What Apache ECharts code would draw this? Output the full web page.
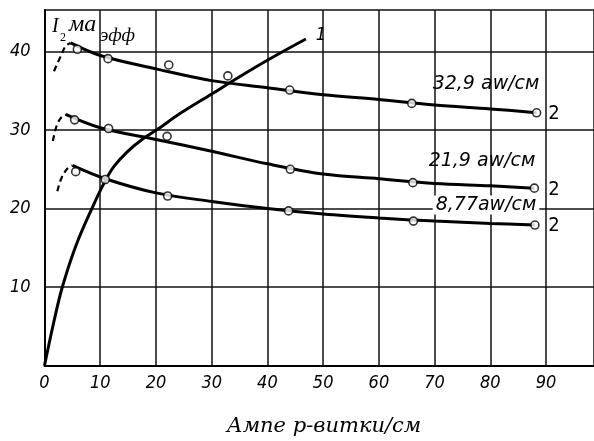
<!DOCTYPE html>
<html>
<head>
<meta charset="utf-8">
<script src="https://cdn.jsdelivr.net/npm/echarts@6/dist/echarts.min.js"></script>
<style>
html,body{margin:0;padding:0;background:#fff;}
#c{width:594px;height:441px;}
</style>
</head>
<body>
<div id="c"></div>
<script>
// Curve 1
var curve1X = [0, 1.75, 3.2, 5.6, 8.5, 10.8, 12.5, 14.8, 17.5, 20.3, 24.3, 30, 35, 40, 46.9];
var curve1Y = [0, 5.8, 10, 15.2, 20, 23.4, 25.4, 27.2, 28.8, 30.1, 32.1, 34.6, 36.8, 38.9, 41.6];

// 32,9 aw/cm
var a329LineX = [4.7, 10, 20, 30, 40, 50, 60, 70, 80, 88.3];
var a329LineY = [41.1, 39.5, 37.8, 36.3, 35.4, 34.5, 33.9, 33.2, 32.7, 32.2];
var a329DashX = [1.7, 2.9, 3.8, 4.7];
var a329DashY = [37.5, 39.4, 40.7, 41.1];
var a329PtsX = [5.9, 11.4, 22.3, 32.9, 44.0, 65.9, 88.3];
var a329PtsY = [40.3, 39.1, 38.3, 36.9, 35.1, 33.4, 32.2];

// 21,9 aw/cm
var a219LineX = [3.8, 10, 20, 30, 40, 50, 60, 70, 80, 87.9];
var a219LineY = [32.0, 30.3, 28.8, 27.3, 25.7, 24.4, 23.8, 23.2, 22.9, 22.6];
var a219DashX = [1.5, 2.2, 3.0, 3.8];
var a219DashY = [28.6, 30.6, 31.6, 32.0];
var a219PtsX = [5.4, 11.5, 22.0, 44.1, 66.1, 87.9];
var a219PtsY = [31.3, 30.2, 29.2, 25.0, 23.3, 22.6];

// 8,77 aw/cm
var a877LineX = [5.0, 10.9, 20, 30, 40, 50, 60, 70, 80, 88.0];
var a877LineY = [25.5, 23.8, 22.0, 20.9, 20.0, 19.3, 18.8, 18.4, 18.1, 17.9];
var a877DashX = [2.3, 3.0, 4.0, 5.0];
var a877DashY = [22.2, 23.8, 25.0, 25.5];
var a877PtsX = [5.6, 10.9, 22.1, 43.8, 66.2, 88.0];
var a877PtsY = [24.7, 23.7, 21.6, 19.7, 18.4, 17.9];

var xTickLabels = ['0','10','20','30','40','50','60','70','80','90'];
var yTickLabels = ['10','20','30','40'];

var curveLabels = ['32,9 aw/см', '21,9 aw/см', '8,77aw/см'];
var xName = 'Ампе р-витки/см';

function pairs(xs, ys){ return xs.map(function(x,i){ return [x, ys[i]]; }); }

var chart = echarts.init(document.getElementById('c'), null, {renderer:'canvas'});

function lineSeries(xs, ys, dashed, w){
  return {
    type:'line', data: pairs(xs, ys), smooth: 0.35, symbol:'none',
    lineStyle:{color:'#000', width: w, type: dashed ? [6,4] : 'solid'}, z: 3, silent:true
  };
}
function ptSeries(xs, ys){
  return {
    type:'scatter', data: pairs(xs, ys), symbol:'circle', symbolSize: 8,
    itemStyle:{color:'#fff', borderColor:'#000', borderWidth:1.6}, z: 5, silent:true
  };
}

var tickFam = 'DejaVu Sans Condensed';

chart.setOption({
  animation:false,
  backgroundColor:'#fff',
  grid:{left:44.5, right:-3, top:10, bottom:75.5},
  xAxis:{
    type:'value', min:0, max:98.6, interval:10,
    axisLine:{show:true, lineStyle:{color:'#000', width:2}},
    axisTick:{show:false},
    splitLine:{show:true, lineStyle:{color:'#111', width:1.5}},
    axisLabel:{
      showMaxLabel:false, margin:9,
      fontFamily:tickFam, fontStyle:'italic', fontSize:18, color:'#000',
      formatter:function(v){ var i = Math.round(v/10); return xTickLabels[i] !== undefined && Math.abs(v - i*10) < 1e-6 ? xTickLabels[i] : ''; }
    }
  },
  yAxis:{
    type:'value', min:0, max:45.3, interval:10,
    axisLine:{show:true, lineStyle:{color:'#000', width:2}},
    axisTick:{show:false},
    splitLine:{show:true, lineStyle:{color:'#111', width:1.5}},
    axisLabel:{
      showMinLabel:false, showMaxLabel:false, margin:14,
      fontFamily:tickFam, fontStyle:'italic', fontSize:18, color:'#000',
      padding:[6,0,0,0],
      formatter:function(v){ var i = Math.round(v/10) - 1; return yTickLabels[i] !== undefined && Math.abs(v - (i+1)*10) < 1e-6 ? yTickLabels[i] : ''; }
    }
  },
  series:[
    lineSeries(curve1X, curve1Y, false, 3),
    lineSeries(a329LineX, a329LineY, false, 3),
    lineSeries(a329DashX, a329DashY, true, 2.2),
    ptSeries(a329PtsX, a329PtsY),
    lineSeries(a219LineX, a219LineY, false, 3),
    lineSeries(a219DashX, a219DashY, true, 2.2),
    ptSeries(a219PtsX, a219PtsY),
    lineSeries(a877LineX, a877LineY, false, 3),
    lineSeries(a877DashX, a877DashY, true, 2.2),
    ptSeries(a877PtsX, a877PtsY)
  ],
  graphic:[
    {type:'text', x:324, y:427, z:10, style:{text:xName, font:'italic 21px "DejaVu Serif"', fill:'#000', align:'center', verticalAlign:'middle'}},
    {type:'text', x:52, y:27, z:10, style:{text:'I', font:'italic 20px "Liberation Serif"', fill:'#000', align:'left', verticalAlign:'middle'}},
    {type:'text', x:60, y:38, z:10, style:{text:'2', font:'12px "Liberation Serif"', fill:'#000', align:'left', verticalAlign:'middle'}},
    {type:'text', x:69, y:25, z:10, style:{text:'ма', font:'italic 24px "Liberation Serif"', fill:'#000', align:'left', verticalAlign:'middle'}},
    {type:'text', x:100, y:36, z:10, style:{text:'эфф', font:'italic 19px "Liberation Serif"', fill:'#000', align:'left', verticalAlign:'middle'}},
    {type:'text', x:321, y:35, z:10, style:{text:'1', font:'italic 18px "DejaVu Sans Condensed"', fill:'#000', align:'center', verticalAlign:'middle'}},
    {type:'text', x:486, y:84, z:10, style:{text:curveLabels[0], font:'italic 19px "DejaVu Sans"', fill:'#000', align:'center', verticalAlign:'middle'}},
    {type:'text', x:482, y:161, z:10, style:{text:curveLabels[1], font:'italic 19px "DejaVu Sans"', fill:'#000', align:'center', verticalAlign:'middle'}},
    {type:'text', x:486, y:205, z:10, style:{text:curveLabels[2], font:'italic 19px "DejaVu Sans"', fill:'#000', align:'center', verticalAlign:'middle', backgroundColor:'#fff', padding:[0,3]}},
    {type:'text', x:554, y:114, z:10, style:{text:'2', font:'20px "DejaVu Sans Condensed"', fill:'#000', align:'center', verticalAlign:'middle'}},
    {type:'text', x:554, y:190, z:10, style:{text:'2', font:'20px "DejaVu Sans Condensed"', fill:'#000', align:'center', verticalAlign:'middle'}},
    {type:'text', x:554, y:226, z:10, style:{text:'2', font:'20px "DejaVu Sans Condensed"', fill:'#000', align:'center', verticalAlign:'middle', backgroundColor:'#fff'}}
  ]
});
</script>
</body>
</html>
